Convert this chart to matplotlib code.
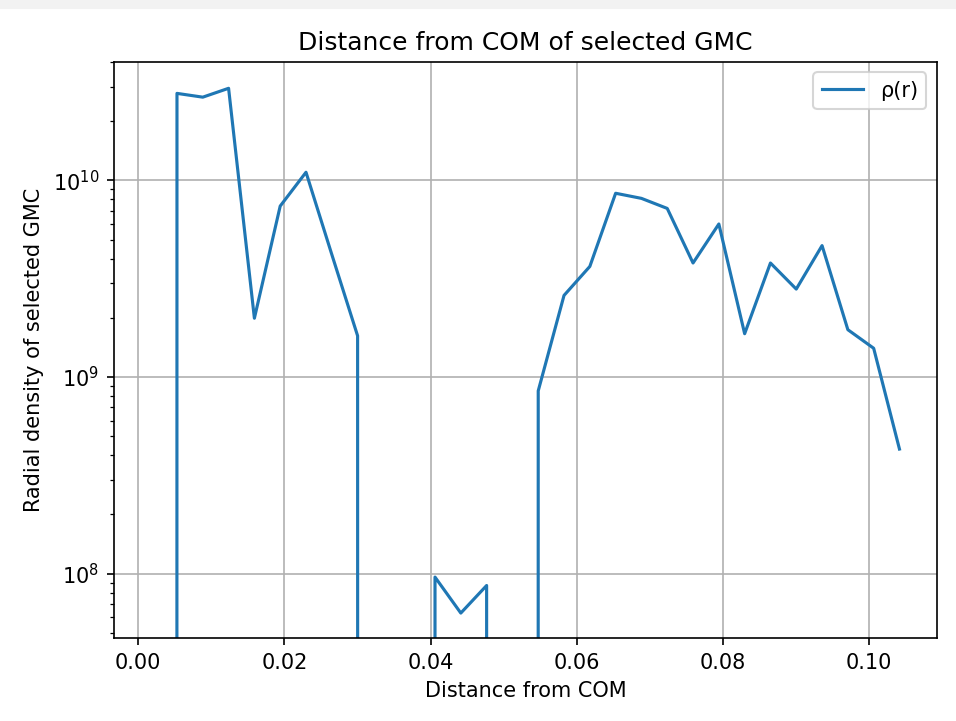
import matplotlib
matplotlib.use("Agg")
import matplotlib.pyplot as plt
import numpy as np

# radial bins (bin centres) and density per bin
r = 0.00177 + 0.00353 * np.arange(30)
rho = [0.0, 2.77e10, 2.65e10, 2.94e10, 1.99e9, 7.4e9, 1.1e10, 4.2e9, 1.62e9,
       0.0, 0.0, 9.6e7, 6.3e7, 8.7e7, 0.0, 8.5e8, 2.6e9, 3.65e9, 8.6e9, 8.1e9,
       7.2e9, 3.8e9, 6.0e9, 1.66e9, 3.8e9, 2.8e9, 4.66e9, 1.74e9, 1.4e9, 4.3e8]

fig = plt.figure(figsize=(956/150, 721/150), dpi=150)
# thin grey strip along the top edge, as in the screenshot
fig.patches.append(plt.Rectangle((0, 1 - 8/721), 1, 8/721, transform=fig.transFigure,
                                 color="#f2f2f2", zorder=0))
plt.plot(r, rho, label="ρ(r)")
plt.yscale("log")
plt.ylim(4.7e7, 4.0e10)
plt.xlabel("Distance from COM")
plt.ylabel("Radial density of selected GMC")
plt.title("Distance from COM of selected GMC")
plt.grid(True)
plt.legend(loc="upper right")
plt.subplots_adjust(left=0.119, right=0.980, top=0.914, bottom=0.115)
plt.savefig("out.png", dpi=150)
